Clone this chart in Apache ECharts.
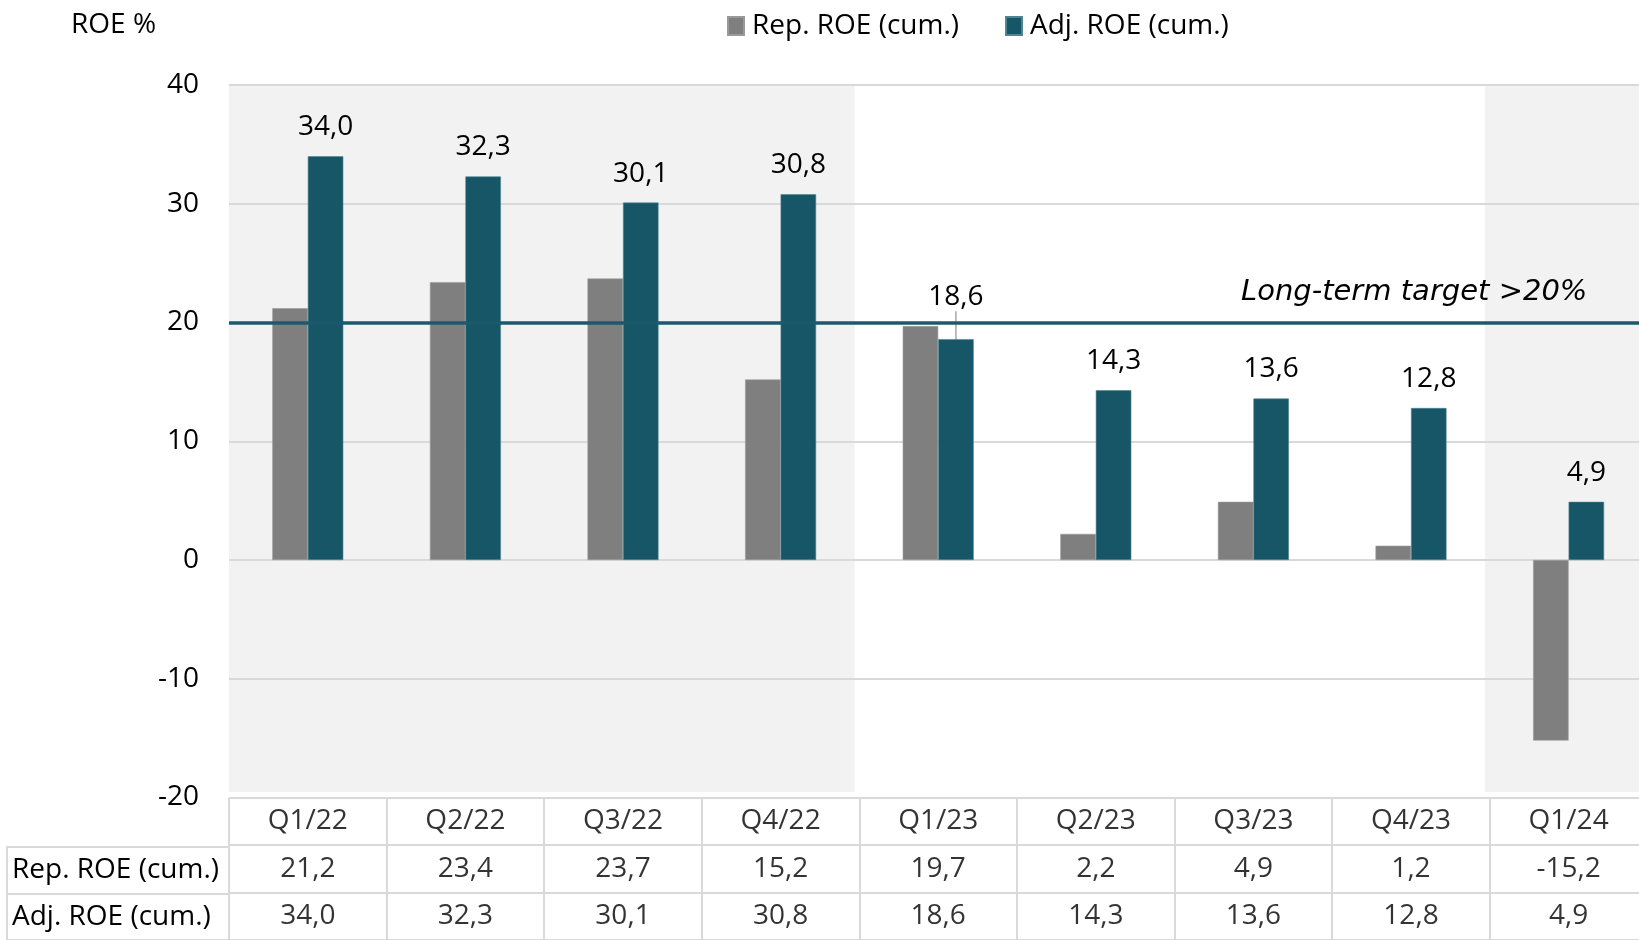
<!DOCTYPE html>
<html lang="en">
<head>
  <meta charset="UTF-8">
  <title>ROE</title>
  <script src="https://cdn.jsdelivr.net/npm/echarts@6/dist/echarts.min.js"></script>
  <style>
    html, body { margin: 0; padding: 0; background: #fff; overflow: hidden; }
  </style>
</head>
<body>
<!-- a bit wider than the window: the last column runs off the right edge -->
<div id="chart" style="width: 1660px;height: 940px"></div>
</body>
<script>

  var chart = echarts.init(document.getElementById('chart'));

  var quarters = ['Q1/22', 'Q2/22', 'Q3/22', 'Q4/22', 'Q1/23', 'Q2/23', 'Q3/23', 'Q4/23', 'Q1/24'];
  var repRoe = [21.2, 23.4, 23.7, 15.2, 19.7, 2.2, 4.9, 1.2, -15.2];
  var adjRoe = [34.0, 32.3, 30.1, 30.8, 18.6, 14.3, 13.6, 12.8, 4.9];
  var repName = 'Rep. ROE (cum.)';
  var adjName = 'Adj. ROE (cum.)';
  var target = 20;
  var targetText = 'Long-term target >20%';
  var yMin = -20, yMax = 40, yStep = 10;
  // shaded column ranges (start, end) in category units
  var shaded = [[0, 4], [8, 9]];

  var font = '"Open Sans", "Noto Sans", sans-serif';
  var grey = '#7f7f7f';
  var teal = '#175667';
  var gridLine = '#d9d9d9';
  var fs = 28;
  var colW = 157.6;
  var rowH = 49.3;

  function fmt(v) {
    return v.toFixed(1).replace('.', ',');
  }

  // labels sitting on the target line get lifted, with a leader line
  function nearTarget(v) {
    return Math.abs(v - target) < 3;
  }

  // table cells: [column, row, text]
  var cells = [];
  for (var i = 0; i < quarters.length; i++) {
    cells.push([i, 0, quarters[i]]);
    cells.push([i, 1, fmt(repRoe[i])]);
    cells.push([i, 2, fmt(adjRoe[i])]);
  }

  var areas = shaded.map(function (s) {
    var end = s[1] === quarters.length ? s[1] : s[1] - 0.03;
    return [{xAxis: s[0] - 0.03, yAxis: yMax + 0.17}, {xAxis: end, yAxis: yMin + 0.46}];
  });

  var adjData = adjRoe.map(function (v) {
    if (nearTarget(v)) {
      return {value: v, labelLine: {show: true}};
    }
    return v;
  });

  var option = {
    backgroundColor: '#fff',
    animation: false,
    textStyle: {fontFamily: font},
    title: {
      text: 'ROE %',
      left: 71,
      top: 11,
      padding: 0,
      textStyle: {fontFamily: font, fontSize: fs, fontWeight: 'normal', color: '#000'}
    },
    legend: {
      left: 727,
      top: 12,
      padding: 0,
      itemWidth: 16,
      itemHeight: 18,
      itemGap: 46,
      icon: 'rect',
      data: [repName, adjName],
      textStyle: {fontFamily: font, fontSize: fs, color: '#000', padding: [0, 0, 0, 3]}
    },
    grid: [
      {left: 229, top: 85, width: colW * quarters.length, height: 712.5},
      {left: 229, top: 797.5, width: colW * quarters.length, height: rowH * 3},
      {left: 7, top: 797.5 + rowH, width: 222, height: rowH * 2}
    ],
    xAxis: [
      {
        type: 'category', gridIndex: 0, data: quarters,
        axisLabel: {show: false}, axisLine: {show: false}, axisTick: {show: false}
      },
      {
        type: 'value', gridIndex: 0, min: 0, max: quarters.length, show: false
      },
      {
        type: 'category', gridIndex: 1, data: quarters,
        axisLabel: {show: false}, axisLine: {show: false}, axisTick: {show: false},
        splitLine: {show: true, interval: 0, lineStyle: {color: gridLine, width: 2}}
      },
      {
        type: 'value', gridIndex: 2, show: false
      }
    ],
    yAxis: [
      {
        type: 'value', gridIndex: 0, min: yMin, max: yMax, interval: yStep,
        axisLine: {show: false}, axisTick: {show: false},
        axisLabel: {fontFamily: font, fontSize: fs, color: '#000', margin: 30},
        splitLine: {lineStyle: {color: gridLine, width: 2}}
      },
      {
        type: 'category', gridIndex: 1, inverse: true, data: ['head', 'rep', 'adj'],
        axisLabel: {show: false}, axisLine: {show: false}, axisTick: {show: false},
        splitLine: {show: true, interval: 0, lineStyle: {color: gridLine, width: 2}}
      },
      {
        type: 'category', gridIndex: 2, inverse: true, data: [repName, adjName],
        axisLine: {show: true, lineStyle: {color: gridLine, width: 2}},
        axisTick: {show: false},
        axisLabel: {inside: true, margin: 5, fontFamily: font, fontSize: fs, color: '#000'},
        splitLine: {show: true, interval: 0, lineStyle: {color: gridLine, width: 2}}
      }
    ],
    series: [
      { // shaded background columns
        type: 'line',
        xAxisIndex: 1,
        yAxisIndex: 0,
        z: -1,
        data: [],
        silent: true,
        markArea: {
          silent: true,
          z: -5,
          itemStyle: {color: '#f2f2f2'},
          data: areas
        }
      },
      {
        name: repName,
        type: 'bar',
        xAxisIndex: 0,
        yAxisIndex: 0,
        barWidth: 35.5,
        barGap: '0%',
        itemStyle: {color: grey, borderColor: '#9a9a9a', borderWidth: 0.6},
        data: repRoe
      },
      {
        name: adjName,
        type: 'bar',
        xAxisIndex: 0,
        yAxisIndex: 0,
        barWidth: 35.5,
        itemStyle: {color: teal, borderColor: '#4f8592', borderWidth: 0.6},
        label: {
          show: true,
          position: 'top',
          distance: 15,
          fontFamily: font,
          fontSize: fs,
          color: '#000',
          formatter: function (p) { return fmt(p.value); }
        },
        labelLine: {show: false, lineStyle: {color: '#a6a6a6', width: 1.5}},
        labelLayout: function (p) {
          if (nearTarget(adjRoe[p.dataIndex])) {
            return {dy: -13};
          }
          return {};
        },
        markLine: {
          silent: true,
          symbol: ['none', 'none'],
          z: 10,
          lineStyle: {color: '#1b5a6d', width: 3.5, type: 'solid'},
          label: {
            show: true,
            position: 'insideEndTop',
            distance: [60, 16],
            formatter: targetText,
            fontFamily: '"DejaVu Sans", sans-serif',
            fontStyle: 'italic',
            fontSize: 29,
            color: '#000'
          },
          data: [{yAxis: target}]
        },
        data: adjData
      },
      { // table values
        type: 'scatter',
        xAxisIndex: 2,
        yAxisIndex: 1,
        symbolSize: 1,
        silent: true,
        itemStyle: {color: 'transparent'},
        label: {
          show: true,
          position: 'inside',
          fontFamily: font,
          fontSize: fs,
          color: '#000',
          formatter: function (p) { return p.value[2]; }
        },
        data: cells
      }
    ]
  };

  chart.setOption(option);

</script>
</html>
